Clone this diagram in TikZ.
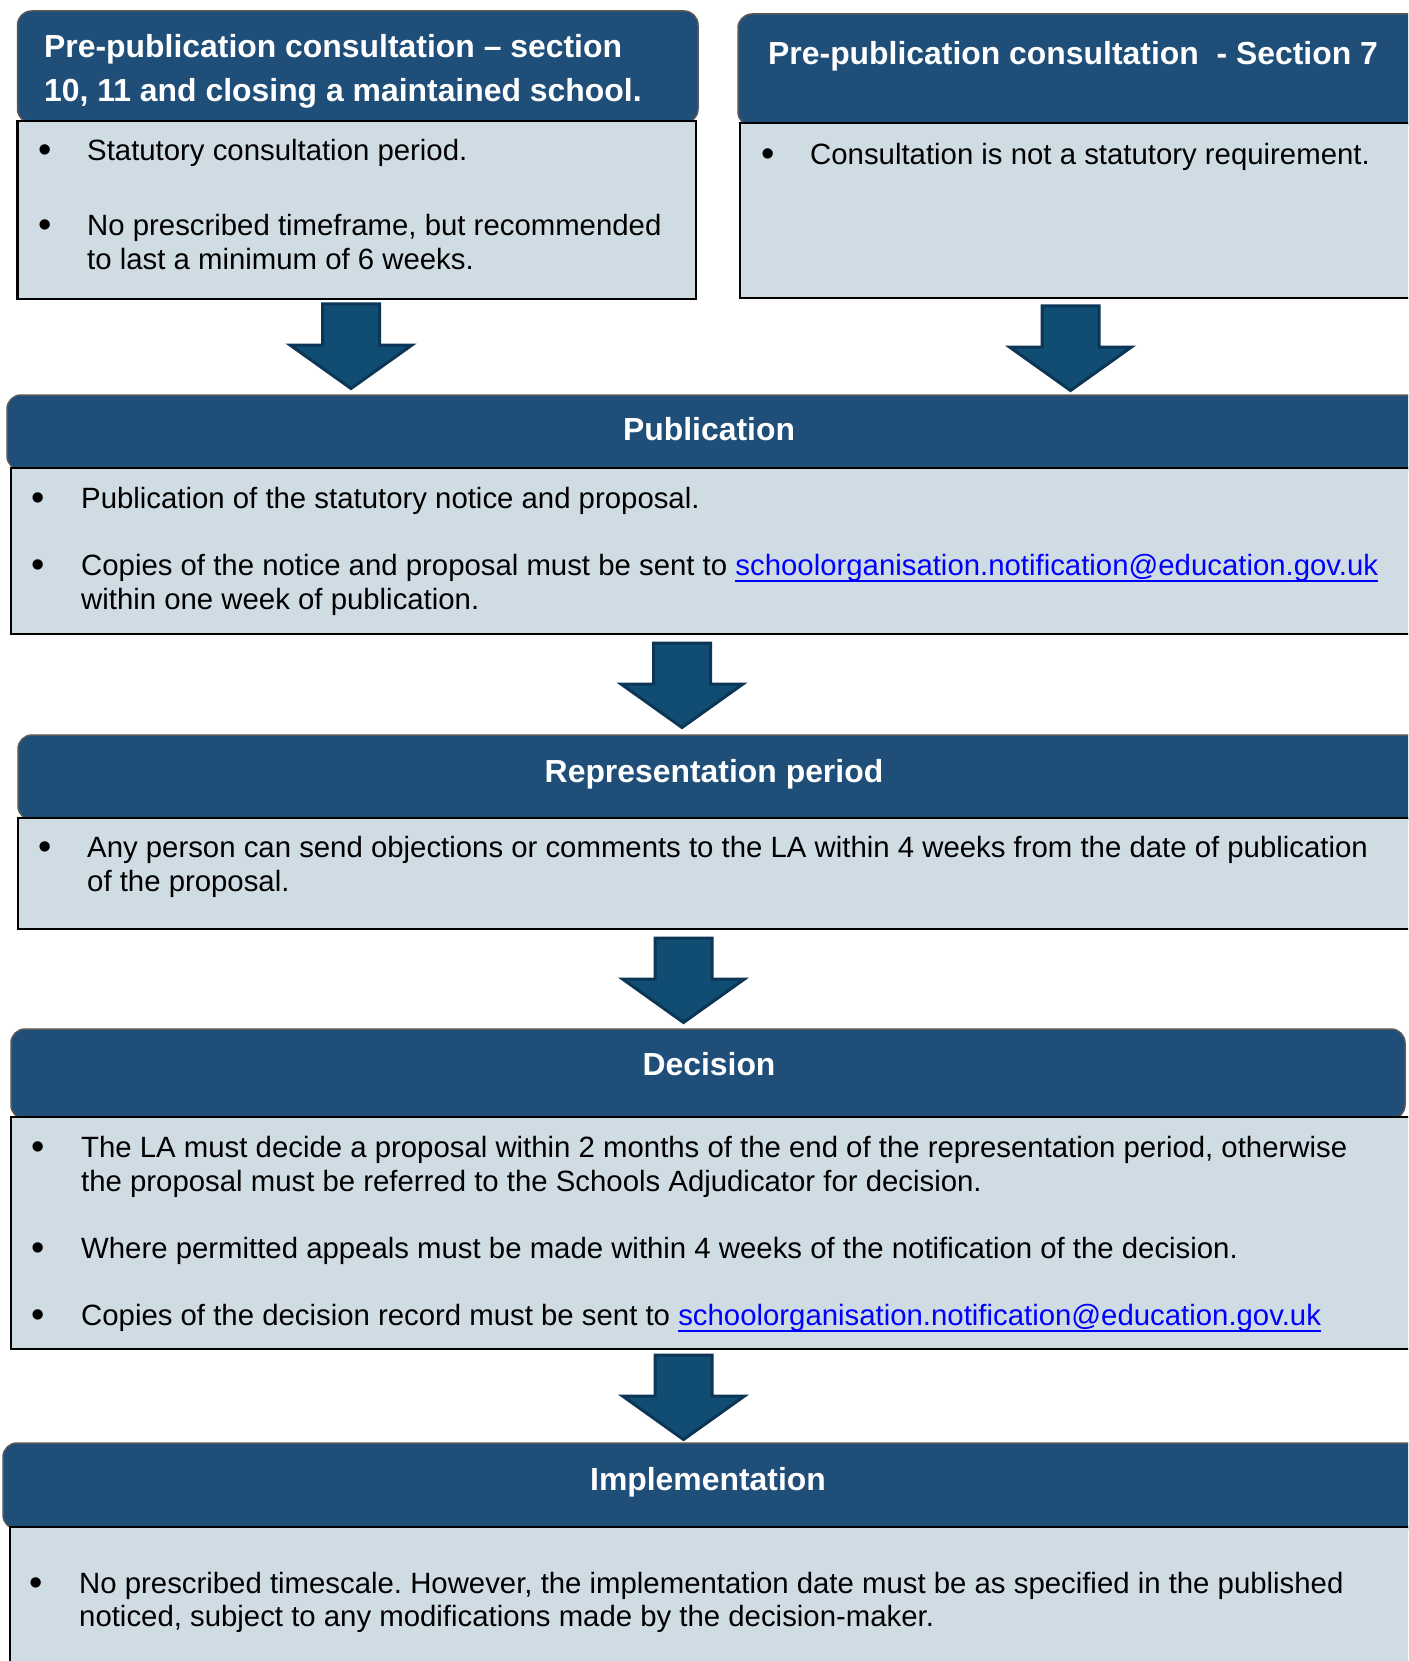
\documentclass[tikz,border=0pt]{standalone}
\usepackage{fontspec}
\setmainfont{Liberation Sans}
\frenchspacing
\definecolor{hdrblue}{HTML}{1F4E79}
\definecolor{bodyfill}{HTML}{CFDCE4}
\definecolor{arrfill}{HTML}{114D72}
\definecolor{arrline}{HTML}{0C3656}
\definecolor{linkblue}{HTML}{0000FF}
\newcommand\ulink[1]{{\color{linkblue}\setbox0\hbox{#1}\rlap{\rule[-6pt]{\wd0}{2pt}}\box0}}
\tikzset{
 hdr/.style={draw=black!65, line width=1.5pt, fill=hdrblue, rounded corners=14pt, anchor=north west, inner sep=0pt, outer sep=0pt},
 bodybox/.style={draw=black, line width=2.5pt, fill=bodyfill, anchor=north west, inner sep=0pt, outer sep=0pt},
 ttl/.style={text=white, font=\fontsize{31.9}{43.5}\selectfont\bfseries\frenchspacing, inner sep=0pt, anchor=base west, yshift=1pt},
 ttlc/.style={ttl, anchor=base},
 txt/.style={font=\fontsize{29.35}{34.5}\selectfont\frenchspacing, inner sep=0pt, anchor=base west, yshift=1.5pt},
 bul/.style={font=\fontsize{38}{40}\selectfont, inner sep=0pt, anchor=base, yshift=-0.5pt},
 blockarrow/.style={fill=arrfill, draw=arrline, line width=3pt, line join=miter},
 downarrow/.pic={\draw[blockarrow] (-28.5,0) -- (28.5,0) -- (28.5,41) -- (61,41) -- (0,84.5) -- (-61,41) -- (-28.5,41) -- cycle;}
}
\begin{document}
\begin{tikzpicture}[x=1pt,y=-1pt]
\useasboundingbox (0,0) rectangle (1408,1661);
\clip (0,0) rectangle (1408,1661);
\fill[white] (0,0) rectangle (1408,1661);

% ---- top left ----
\node[hdr, minimum width=680.5pt, minimum height=112pt] (h1) at (17.5,11) {};
\node[bodybox, minimum width=678.5pt, minimum height=178pt] (b1) at (17.5,121) {};
\node[ttl] (t1a) at (44,59) {Pre-publication consultation – section};
\node[ttl] (t1b) at (44,102.5) {10, 11 and closing a maintained school.};
\node[bul] (u1a) at (45,162) {•};
\node[txt] (x1a) at (87,162) {Statutory consultation period.};
\node[bul] (u1b) at (45,237) {•};
\node[txt] (x1b) at (87,237) {No prescribed timeframe, but recommended};
\node[txt] (x1c) at (87,271) {to last a minimum of 6 weeks.};

% ---- top right ----
\node[hdr, minimum width=692pt, minimum height=112pt] (h2) at (738,14) {};
\node[bodybox, minimum width=680pt, minimum height=175pt] (b2) at (740,123) {};
\node[ttl] (t2) at (768,65.5) {Pre-publication consultation\ \ - Section 7};
\node[bul] (u2) at (768,166) {•};
\node[txt] (x2) at (810,166) {Consultation is not a statutory requirement.};

% ---- publication ----
\node[hdr, minimum width=1423pt, minimum height=75pt] (h3) at (7,395) {};
\node[bodybox, minimum width=1409pt, minimum height=166pt] (b3) at (11,468) {};
\node[ttlc] (t3) at (709,441) {Publication};
\node[bul] (u3a) at (38,510) {•};
\node[txt] (x3a) at (81,510) {Publication of the statutory notice and proposal.};
\node[bul] (u3b) at (38,577) {•};
\node[txt] (x3b) at (81,577) {Copies of the notice and proposal must be sent to \ulink{schoolorganisation.notification@education.gov.uk}};
\node[txt] (x3c) at (81,611) {within one week of publication.};

% ---- representation ----
\node[hdr, minimum width=1412pt, minimum height=85pt] (h4) at (18,735) {};
\node[bodybox, minimum width=1402pt, minimum height=111pt] (b4) at (18,818) {};
\node[ttlc] (t4) at (714,783) {Representation period};
\node[bul] (u4) at (45,859) {•};
\node[txt] (x4a) at (87,859) {Any person can send objections or comments to the LA within 4 weeks from the date of publication};
\node[txt] (x4b) at (87,893) {of the proposal.};

% ---- decision ----
\node[hdr, minimum width=1394pt, minimum height=90pt] (h5) at (11,1029) {};
\node[bodybox, minimum width=1409pt, minimum height=232pt] (b5) at (11,1117) {};
\node[ttlc] (t5) at (709,1076) {Decision};
\node[bul] (u5a) at (38,1159) {•};
\node[txt] (x5a) at (81,1159) {The LA must decide a proposal within 2 months of the end of the representation period, otherwise};
\node[txt] (x5b) at (81,1193) {the proposal must be referred to the Schools Adjudicator for decision.};
\node[bul] (u5b) at (38,1260) {•};
\node[txt] (x5c) at (81,1260) {Where permitted appeals must be made within 4 weeks of the notification of the decision.};
\node[bul] (u5c) at (38,1327) {•};
\node[txt] (x5d) at (81,1327) {Copies of the decision record must be sent to \ulink{schoolorganisation.notification@education.gov.uk}};

% ---- implementation ----
\node[hdr, minimum width=1427pt, minimum height=86pt] (h6) at (3,1443) {};
\node[bodybox, minimum width=1410pt, minimum height=148pt] (b6) at (10,1527) {};
\node[ttlc] (t6) at (708,1491) {Implementation};
\node[bul] (u6) at (36,1595) {•};
\node[txt] (x6a) at (79,1595) {No prescribed timescale. However, the implementation date must be as specified in the published};
\node[txt] (x6b) at (79,1628) {noticed, subject to any modifications made by the decision-maker.};

% ---- arrows ----
\coordinate (a1) at (351,304);
\coordinate (a2) at (1070.5,306);
\coordinate (a3) at (682,643);
\coordinate (a4) at (683.5,938);
\coordinate (a5) at (683.5,1355);
\pic at (a1) {downarrow};
\pic at (a2) {downarrow};
\pic at (a3) {downarrow};
\pic at (a4) {downarrow};
\pic at (a5) {downarrow};
\end{tikzpicture}
\end{document}
